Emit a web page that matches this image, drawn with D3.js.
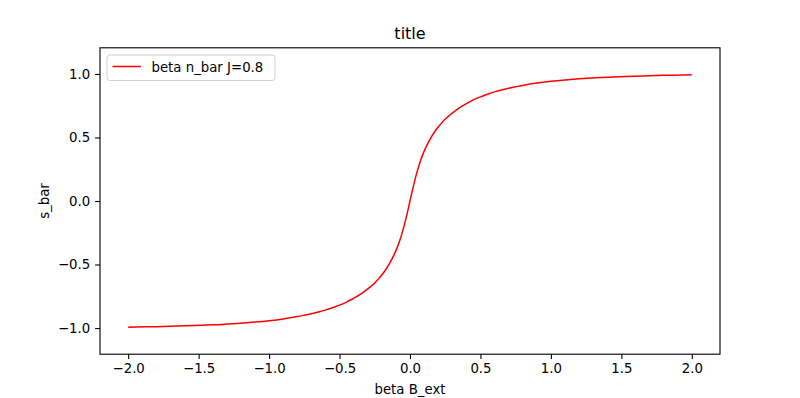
<!DOCTYPE html>
<html>
  <head>
    <meta charset="utf-8">
    <script src="https://d3js.org/d3.v7.min.js"></script>
  </head>
  <style>
    body { margin: 0; background: #fff; }
    svg text { font-family: "DejaVu Sans", sans-serif; fill: #000; }
  </style>
  <body>
    <svg></svg>
    <script>
      // values
      const betaB = [-2.0, -1.8, -1.6, -1.4, -1.3, -1.2, -1.1, -1.0, -0.9, -0.8, -0.75, -0.7, -0.65, -0.6, -0.55, -0.5, -0.45, -0.4, -0.35, -0.3,
                     -0.25, -0.225, -0.2, -0.175, -0.15, -0.125, -0.1, -0.075, -0.05, -0.025,
                     0.0, 0.025, 0.05, 0.075, 0.1, 0.125, 0.15, 0.175, 0.2, 0.225, 0.25,
                     0.3, 0.35, 0.4, 0.45, 0.5, 0.55, 0.6, 0.65, 0.7, 0.75, 0.8, 0.9, 1.0, 1.1, 1.2, 1.3, 1.4, 1.6, 1.8, 2.0];
      const sBar = [-0.993, -0.989, -0.983, -0.975, -0.969, -0.962, -0.953, -0.942, -0.928, -0.910, -0.899, -0.887, -0.874, -0.859, -0.840, -0.820, -0.796, -0.766, -0.734, -0.692,
                    -0.645, -0.615, -0.582, -0.545, -0.501, -0.450, -0.391, -0.319, -0.229, -0.121,
                    0.0, 0.121, 0.229, 0.319, 0.391, 0.450, 0.501, 0.545, 0.582, 0.615, 0.645,
                    0.692, 0.734, 0.766, 0.796, 0.820, 0.840, 0.859, 0.874, 0.887, 0.899, 0.910, 0.928, 0.942, 0.953, 0.962, 0.969, 0.975, 0.983, 0.989, 0.993];
      const xTicks = [-2.0, -1.5, -1.0, -0.5, 0.0, 0.5, 1.0, 1.5, 2.0];
      const yTicks = [-1.0, -0.5, 0.0, 0.5, 1.0];
      const legendLabel = "beta n_bar J=0.8";

      const W = 800, H = 398;
      const margin = {left: 100, right: 80, top: 47.8, bottom: 43.8};

      const svg = d3.select("svg").attr("width", W).attr("height", H);

      const x = d3.scaleLinear().domain([-2.2, 2.2]).range([margin.left, W - margin.right]);
      const y = d3.scaleLinear().domain([-1.206, 1.206]).range([H - margin.bottom, margin.top]);

      const fmt = d3.format(".1f");

      // axes
      const xAxis = svg.append("g")
        .attr("transform", `translate(0,${H - margin.bottom})`)
        .call(d3.axisBottom(x).tickValues(xTicks).tickFormat(fmt).tickSize(4.9).tickPadding(4.9));
      const yAxis = svg.append("g")
        .attr("transform", `translate(${margin.left},0)`)
        .call(d3.axisLeft(y).tickValues(yTicks).tickFormat(fmt).tickSize(4.9).tickPadding(4.9));
      [xAxis, yAxis].forEach(g => {
        g.select(".domain").remove();
        g.selectAll("text").style("font-size", "13.3px");
        g.selectAll("line").attr("stroke", "#000").attr("stroke-width", 1.1);
      });

      // frame
      svg.append("rect")
        .attr("x", margin.left).attr("y", margin.top)
        .attr("width", W - margin.left - margin.right)
        .attr("height", H - margin.top - margin.bottom)
        .attr("fill", "none").attr("stroke", "#000").attr("stroke-width", 1.1);

      // curve
      const line = d3.line().x((d, i) => x(betaB[i])).y(d => y(d)).curve(d3.curveCatmullRom);
      svg.append("path")
        .datum(sBar)
        .attr("d", line)
        .attr("fill", "none")
        .attr("stroke", "red")
        .attr("stroke-width", 1.5);

      // labels
      svg.append("text").attr("x", (margin.left + W - margin.right) / 2).attr("y", 39)
        .attr("text-anchor", "middle").style("font-size", "16px").text("title");
      svg.append("text").attr("x", (margin.left + W - margin.right) / 2).attr("y", 394)
        .attr("text-anchor", "middle").style("font-size", "13.3px").text("beta B_ext");
      svg.append("text").attr("transform", `translate(49,${(margin.top + H - margin.bottom) / 2}) rotate(-90)`)
        .attr("text-anchor", "middle").style("font-size", "13.3px").text("s_bar");

      // legend
      const lg = svg.append("g").attr("transform", `translate(107,55)`);
      lg.append("rect").attr("width", 168).attr("height", 25.5).attr("rx", 3)
        .attr("fill", "#fff").attr("fill-opacity", 0.8).attr("stroke", "#d0d0d0");
      lg.append("line").attr("x1", 5.5).attr("x2", 34).attr("y1", 11.5).attr("y2", 11.5)
        .attr("stroke", "red").attr("stroke-width", 1.5);
      lg.append("text").attr("x", 44.5).attr("y", 16.5).style("font-size", "13.3px").text(legendLabel);
    </script>
  </body>
</html>
